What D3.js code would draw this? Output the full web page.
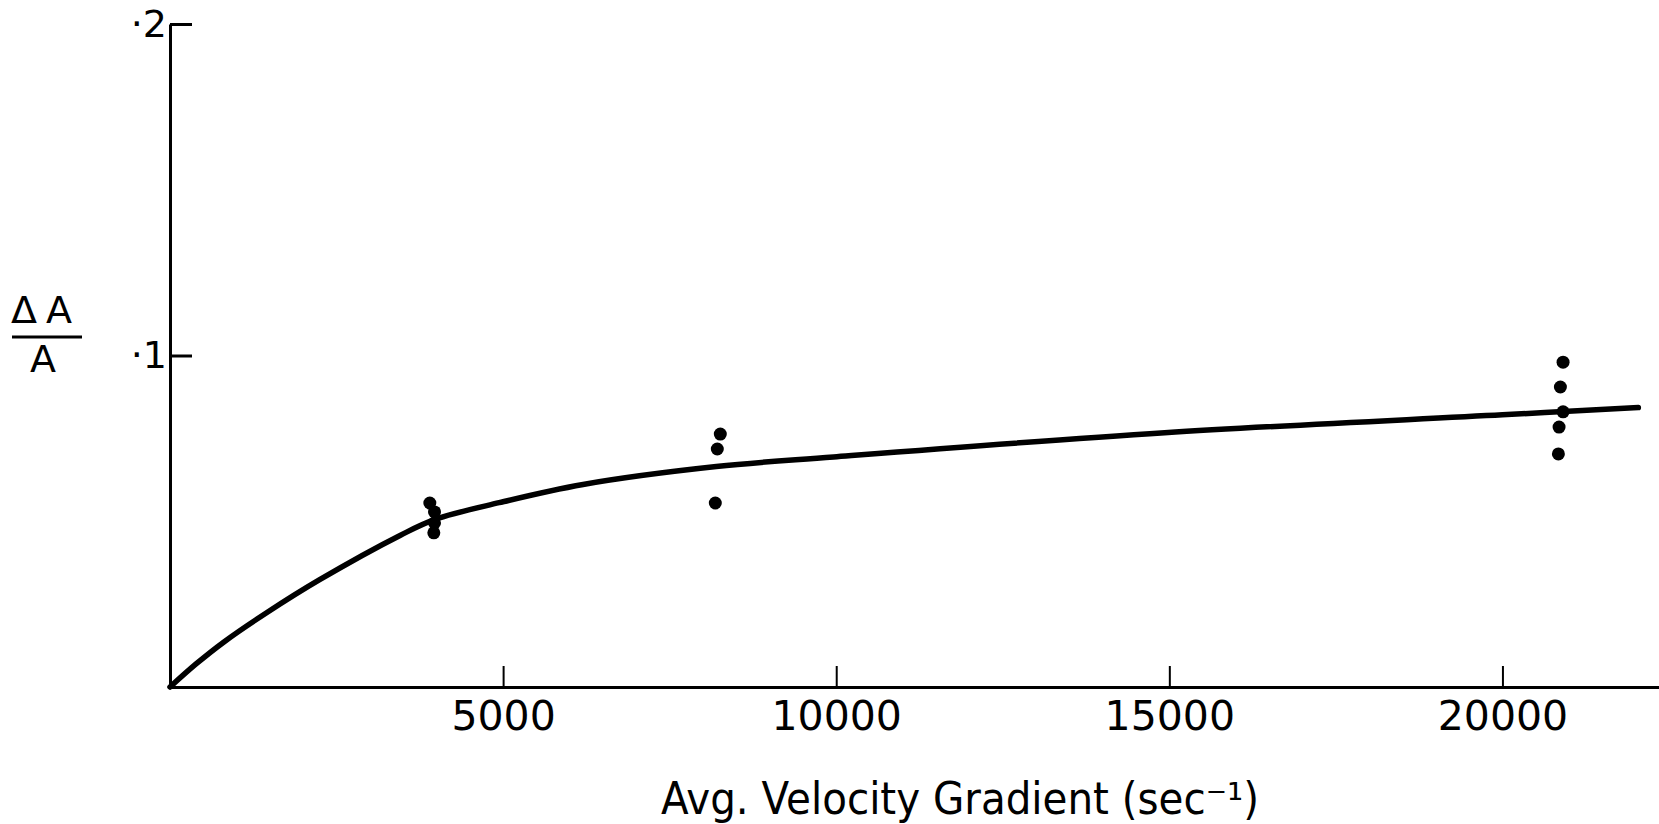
<!DOCTYPE html>

<head>
    <title>Delta A over A vs velocity gradient</title>
    <script src="https://d3js.org/d3.v7.min.js"></script>
    <style>
        body { margin: 0; background: #fff; }
        text { font-family: "DejaVu Sans", sans-serif; fill: #000; }
    </style>
</head>

<body>

    <div id="home"></div>

    <script>
        // tick values + labels
        const xTicks = [5000, 10000, 15000, 20000]
        const yTicks = [0.1, 0.2]
        const yTickLabels = ["·1", "·2"]

        // measured points (sec^-1, dA/A)
        const pointGradient = [3900, 3970, 3970, 3960,
                               8260, 8215, 8185,
                               20910, 20870, 20910, 20850, 20840]
        const pointRatio = [0.0555, 0.0528, 0.0495, 0.0465,
                            0.0763, 0.0718, 0.0555,
                            0.0980, 0.0905, 0.0830, 0.0784, 0.0703]

        // hand drawn fitted curve
        const curveGradient = [0, 400, 810, 1450, 2240, 3460, 3970, 4940, 6200, 8200, 9960, 14930, 20000, 22040]
        const curveRatio = [0, 0.0071, 0.0136, 0.0224, 0.0323, 0.0458, 0.0505, 0.0556, 0.0611, 0.0665, 0.0694, 0.0767, 0.0821, 0.0843]

        const w = 1659;
        const h = 824;

        const svg = d3.select("#home")
                      .append("svg")
                      .attr("width", w)
                      .attr("height", h)

        const xScale = d3.scaleLinear()
                         .domain([0, 22350])
                         .range([170, 1659])
        const yScale = d3.scaleLinear()
                         .domain([0, 0.2])
                         .range([687, 24])

        //X-Axis
        const xAxis = d3.axisBottom(xScale)
                        .tickValues(xTicks)
                        .tickSizeInner(-21)
                        .tickSizeOuter(0)
                        .tickPadding(14)
                        .tickFormat(d3.format("d"))
        const gx = svg.append("g")
           .attr("transform", "translate(0," + yScale(0) + ")")
           .call(xAxis)
        gx.selectAll("text").style("font-size", "41px").style("font-family", "DejaVu Sans")
        gx.select(".domain").attr("stroke-width", 3)
        gx.selectAll(".tick line").attr("stroke-width", 2)

        //Y-Axis
        const yAxis = d3.axisLeft(yScale)
                        .tickValues(yTicks)
                        .tickSizeInner(-22)
                        .tickSizeOuter(0)
                        .tickPadding(3)
                        .tickFormat((d, i) => yTickLabels[i])
        const gy = svg.append("g")
           .attr("transform", "translate(" + xScale(0) + ",0)")
           .call(yAxis)
        gy.selectAll("text").style("font-size", "38px").style("font-family", "DejaVu Sans")
        gy.select(".domain").attr("stroke-width", 3)
        gy.selectAll(".tick line").attr("stroke-width", 3)

        // y label as a fraction
        svg.append("text")
           .attr("x", 46)
           .attr("y", 323)
           .attr("text-anchor", "middle")
           .style("font-size", "38px")
           .style("letter-spacing", "9px")
           .text("ΔA")
        svg.append("line")
           .attr("x1", 12).attr("x2", 82)
           .attr("y1", 337).attr("y2", 337)
           .attr("stroke", "#000")
           .attr("stroke-width", 3)
        svg.append("text")
           .attr("x", 43)
           .attr("y", 372)
           .attr("text-anchor", "middle")
           .style("font-size", "38px")
           .text("A")

        // x label
        svg.append("text")
           .attr("x", 960)
           .attr("y", 814)
           .attr("text-anchor", "middle")
           .style("font-size", "44px")
           .attr("textLength", 598)
           .attr("lengthAdjust", "spacingAndGlyphs")
           .text("Avg. Velocity Gradient (sec⁻¹)")

        // curve
        const line = d3.line()
                       .x((d, i) => xScale(curveGradient[i]))
                       .y((d, i) => yScale(curveRatio[i]))
                       .curve(d3.curveCatmullRom.alpha(0.5))
        svg.append("path")
           .datum(curveGradient)
           .attr("d", line)
           .attr("fill", "none")
           .attr("stroke", "#000")
           .attr("stroke-width", 5.5)
           .attr("stroke-linecap", "round")

        // points
        svg.selectAll("circle")
           .data(pointGradient)
           .enter()
           .append("circle")
           .attr("cx", (d) => xScale(d))
           .attr("cy", (d, i) => yScale(pointRatio[i]))
           .attr("r", 6.5)
           .style("fill", "#000")
    </script>

</body>
